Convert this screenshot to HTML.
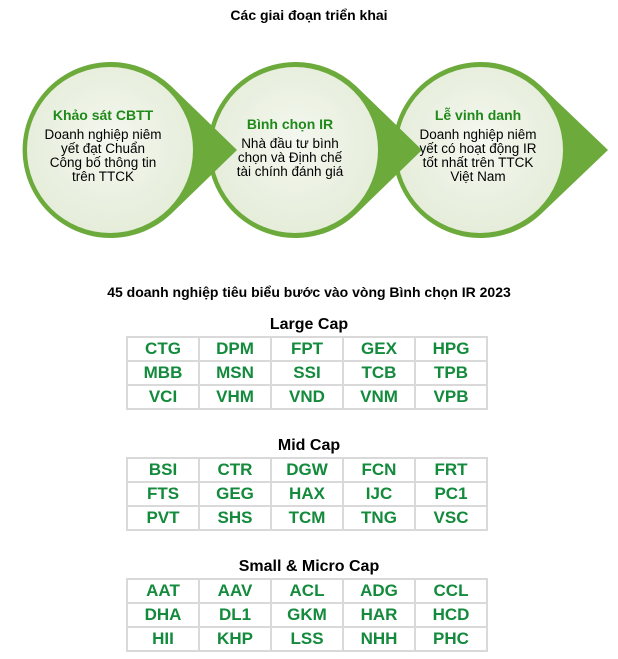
<!DOCTYPE html>
<html><head><meta charset="utf-8"><style>
body{margin:0;width:618px;height:659px;background:#fff;position:relative;overflow:hidden;font-family:"Liberation Sans",Arial,sans-serif}
.t{position:absolute;left:0;width:618px;text-align:center;font-weight:bold;color:#000}
table{position:absolute;left:126px;width:362px;border-collapse:collapse;table-layout:fixed}
td{border:2px solid #d9d9d9;height:22px;padding:0;text-align:center;font-weight:bold;font-size:17px;color:#138a3c;line-height:22px}
</style></head><body>
<div class="t" style="top:7px;font-size:14px">Các giai đoạn triển khai</div>
<svg style="position:absolute;left:0;top:0" width="618" height="260">
<defs><radialGradient id="g" cx="50%" cy="45%" r="60%"><stop offset="0" stop-color="#f4f7ef"/><stop offset="1" stop-color="#e4ecd8"/></radialGradient></defs>
<g><path d="M480,62 A88,88 0 1 0 541,214 L608,150 L541,86 A88,88 0 0 0 480,62Z" fill="#6caa3c"/>
<circle cx="480" cy="150" r="83" fill="url(#g)"/></g>
<g><path d="M295,62 A88,88 0 1 0 356,214 L422,150 L356,86 A88,88 0 0 0 295,62Z" fill="#6caa3c"/>
<circle cx="295" cy="150" r="83" fill="url(#g)"/></g>
<g><path d="M110,62 A88,88 0 1 0 171,214 L237,150 L171,86 A88,88 0 0 0 110,62Z" fill="#6caa3c"/>
<circle cx="110" cy="150" r="83" fill="url(#g)"/></g>
<g font-family="Liberation Sans,Arial,sans-serif" text-anchor="middle" font-size="13.5">
<text x="103" y="120" font-weight="bold" fill="#1f8a1a" font-size="14">Khảo sát CBTT</text>
<text x="103" y="139">Doanh nghiệp niêm</text><text x="103" y="153">yết đạt Chuẩn</text><text x="103" y="167">Công bố thông tin</text><text x="103" y="181">trên TTCK</text>
<text x="290" y="129" font-weight="bold" fill="#1f8a1a" font-size="14">Bình chọn IR</text>
<text x="290" y="148">Nhà đầu tư bình</text><text x="290" y="162">chọn và Định chế</text><text x="290" y="176">tài chính đánh giá</text>
<text x="478" y="120" font-weight="bold" fill="#1f8a1a" font-size="14">Lễ vinh danh</text>
<text x="478" y="139">Doanh nghiệp niêm</text><text x="478" y="153">yết có hoạt động IR</text><text x="478" y="167">tốt nhất trên TTCK</text><text x="478" y="181">Việt Nam</text>
</g></svg>
<div class="t" style="top:284px;font-size:14px">45 doanh nghiệp tiêu biểu bước vào vòng Bình chọn IR 2023</div>
<div class="t" style="top:316px;font-size:16px">Large Cap</div>
<table style="top:336px"><tr><td>CTG</td><td>DPM</td><td>FPT</td><td>GEX</td><td>HPG</td></tr><tr><td>MBB</td><td>MSN</td><td>SSI</td><td>TCB</td><td>TPB</td></tr><tr><td>VCI</td><td>VHM</td><td>VND</td><td>VNM</td><td>VPB</td></tr></table>
<div class="t" style="top:437px;font-size:16px">Mid Cap</div>
<table style="top:457px"><tr><td>BSI</td><td>CTR</td><td>DGW</td><td>FCN</td><td>FRT</td></tr><tr><td>FTS</td><td>GEG</td><td>HAX</td><td>IJC</td><td>PC1</td></tr><tr><td>PVT</td><td>SHS</td><td>TCM</td><td>TNG</td><td>VSC</td></tr></table>
<div class="t" style="top:558px;font-size:16px">Small &amp; Micro Cap</div>
<table style="top:578px"><tr><td>AAT</td><td>AAV</td><td>ACL</td><td>ADG</td><td>CCL</td></tr><tr><td>DHA</td><td>DL1</td><td>GKM</td><td>HAR</td><td>HCD</td></tr><tr><td>HII</td><td>KHP</td><td>LSS</td><td>NHH</td><td>PHC</td></tr></table>
</body></html>
